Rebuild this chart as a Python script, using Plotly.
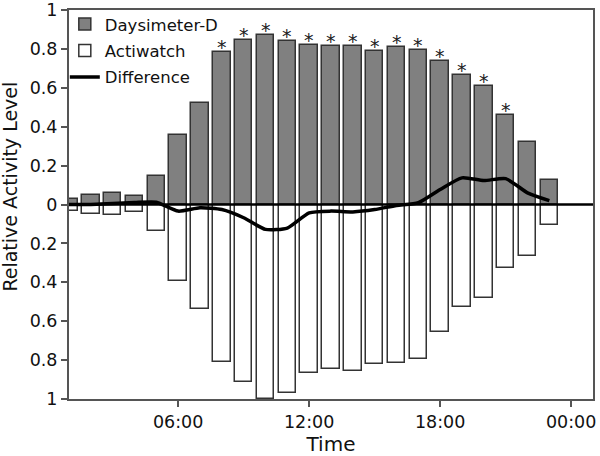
import plotly.graph_objects as go

hours = list(range(1, 24))
daysimeter = [0.029, 0.051, 0.060, 0.043, 0.149, 0.359, 0.523, 0.783, 0.848, 0.872,
              0.843, 0.821, 0.815, 0.814, 0.791, 0.809, 0.795, 0.737, 0.667, 0.607,
              0.460, 0.320, 0.128]
actiwatch = [0.034, 0.048, 0.053, 0.040, 0.136, 0.392, 0.538, 0.811, 0.914, 1.000,
             0.967, 0.868, 0.847, 0.854, 0.821, 0.816, 0.794, 0.656, 0.529, 0.483,
             0.325, 0.263, 0.105]
difference = [0.000, 0.000, 0.005, 0.010, 0.012, -0.034, -0.017, -0.026, -0.068, -0.128,
              -0.121, -0.043, -0.034, -0.038, -0.026, -0.005, 0.009, 0.077, 0.137, 0.123,
              0.133, 0.060, 0.020]
significant_hours = [8, 9, 10, 11, 12, 13, 14, 15, 16, 17, 18, 19, 20, 21]

x_tickvals = [6, 12, 18, 24]
x_ticktext = ["06:00", "12:00", "18:00", "00:00"]
y_tickvals = [-1, -0.8, -0.6, -0.4, -0.2, 0, 0.2, 0.4, 0.6, 0.8, 1]
y_ticktext = ["1", "0.8", "0.6", "0.4", "0.2", "0", "0.2", "0.4", "0.6", "0.8", "1"]

FONT = "DejaVu Sans"
AX = "#555555"

fig = go.Figure()
fig.add_trace(go.Bar(
    x=hours, y=daysimeter, name="Daysimeter-D", width=0.8,
    marker=dict(color="#808080", line=dict(color="#333333", width=1.5)),
    legendgroup="a",
))
fig.add_trace(go.Bar(
    x=hours, y=[-v for v in actiwatch], name="Actiwatch", width=0.8,
    marker=dict(color="#ffffff", line=dict(color="#333333", width=1.5)),
    legendgroup="b",
))
fig.add_trace(go.Scatter(
    x=hours, y=difference, name="Difference", mode="lines",
    line=dict(color="black", width=3.5, shape="spline", smoothing=0.6),
    legendgroup="c",
))

# significance asterisks placed over the Daysimeter bars
star_annotations = [
    dict(x=h, y=daysimeter[hours.index(h)], xref="x", yref="y", text="*",
         showarrow=False, xanchor="center", yanchor="middle", yshift=5,
         font=dict(family=FONT, size=19, color="#222222"))
    for h in significant_hours
]

fig.update_layout(
    width=600, height=456,
    margin=dict(l=69, r=7, t=10, b=57, autoexpand=False),
    paper_bgcolor="white", plot_bgcolor="white",
    barmode="overlay", bargap=0,
    font=dict(family=FONT, size=17.5, color="#111111"),
    showlegend=True,
    legend=dict(
        x=-0.008, y=1.008, xanchor="left", yanchor="top",
        bgcolor="rgba(0,0,0,0)", font=dict(family=FONT, size=16.5, color="#111111"),
        traceorder="grouped", tracegroupgap=2,
    ),
    annotations=[dict(
        text="Relative Activity Level", textangle=-90, showarrow=False,
        xref="paper", yref="paper", x=0, y=0.546, xanchor="center", yanchor="middle",
        xshift=-59, font=dict(family=FONT, size=19, color="#111111"),
    )] + star_annotations,
    shapes=[dict(
        type="line", xref="paper", yref="y", x0=0, x1=1, y0=0, y1=0,
        line=dict(color="black", width=2.5), layer="above",
    )],
)
fig.update_xaxes(
    range=[1, 25], tickvals=x_tickvals, ticktext=x_ticktext, automargin=False,
    showline=True, linecolor=AX, linewidth=2, mirror=True,
    ticks="outside", ticklen=6, tickwidth=1.5, tickcolor=AX,
    showgrid=False, zeroline=False,
    title=dict(text="Time", font=dict(family=FONT, size=20, color="#111111"), standoff=0),
)
fig.update_yaxes(
    range=[-1, 1], tickvals=y_tickvals, ticktext=y_ticktext, automargin=False,
    showline=True, linecolor=AX, linewidth=2, mirror=True,
    ticks="outside", ticklen=6, tickwidth=1.5, tickcolor=AX,
    showgrid=False, zeroline=False,
)

fig.write_html(
    "out.html",
    config={"displayModeBar": False},
    post_script="document.body.style.margin='0';document.body.style.overflow='hidden';",
)
